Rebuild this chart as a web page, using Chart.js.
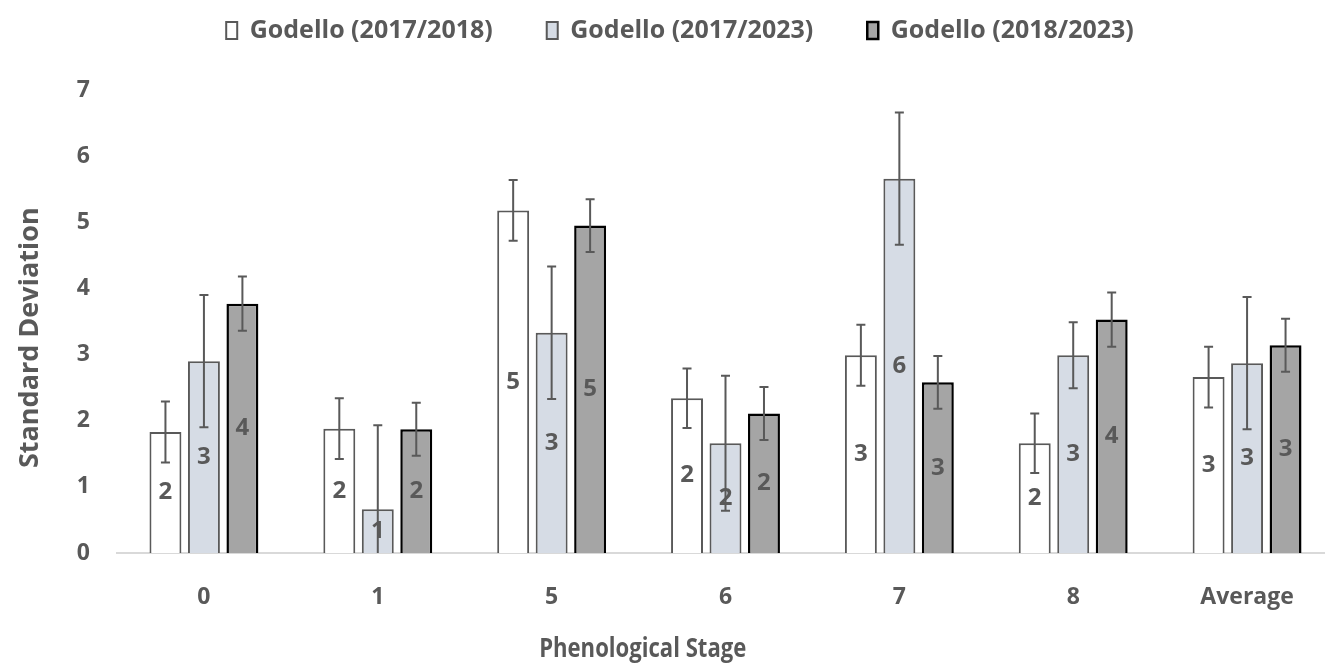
<!DOCTYPE html>
<html>
<head>
<meta charset="utf-8">
<script src="https://cdn.jsdelivr.net/npm/chart.js"></script>
<style>
    html, body { margin: 0; padding: 0; background: #fff; overflow: hidden; }
    #wrap { width: 1345px; height: 664px; }
</style>
</head>
<body>
<div id="wrap"><canvas id="chart"></canvas></div>
<script>
const stages = ['0', '1', '5', '6', '7', '8', 'Average'];
const seriesNames = ['Godello (2017/2018)', 'Godello (2017/2023)', 'Godello (2018/2023)'];

const sd1718 = [1.83, 1.88, 5.18, 2.34, 2.99, 1.66, 2.66];
const sd1723 = [2.90, 0.66, 3.33, 1.66, 5.66, 2.99, 2.87];
const sd1823 = [3.77, 1.87, 4.95, 2.11, 2.58, 3.53, 3.14];

const err1718 = [0.46, 0.46, 0.46, 0.45, 0.46, 0.45, 0.46];
const err1723 = [1.00, 1.27, 1.00, 1.02, 1.00, 0.50, 1.00];
const err1823 = [0.41, 0.40, 0.40, 0.40, 0.40, 0.41, 0.40];

const yTicks = [0, 1, 2, 3, 4, 5, 6, 7];

const FONT = "'Open Sans', 'Noto Sans', sans-serif";
const GREY = '#595959';

(function () {
    'use strict';

    const errors = [err1718, err1723, err1823];

    // error bars drawn from the same y scale as the bars
    const errorBars = {
        id: 'errorBars',
        afterDatasetsDraw(chart) {
            const {ctx, chartArea, scales: {y}} = chart;
            ctx.save();
            ctx.beginPath();
            ctx.rect(chartArea.left, chartArea.top - 20, chartArea.width, chartArea.height + 20);
            ctx.clip();
            ctx.strokeStyle = GREY;
            ctx.lineWidth = 2;
            chart.data.datasets.forEach((ds, i) => {
                chart.getDatasetMeta(i).data.forEach((bar, j) => {
                    const v = ds.data[j], e = errors[i][j];
                    const top = y.getPixelForValue(v + e);
                    const bot = y.getPixelForValue(v - e);
                    ctx.beginPath();
                    ctx.moveTo(bar.x, top);
                    ctx.lineTo(bar.x, bot);
                    ctx.moveTo(bar.x - 4.5, top);
                    ctx.lineTo(bar.x + 4.5, top);
                    ctx.moveTo(bar.x - 4.5, bot);
                    ctx.lineTo(bar.x + 4.5, bot);
                    ctx.stroke();
                });
            });
            ctx.restore();
        }
    };

    // rounded value in the middle of each bar
    const centreLabels = {
        id: 'centreLabels',
        afterDatasetsDraw(chart) {
            const {ctx} = chart;
            ctx.save();
            ctx.font = `bold 24px ${FONT}`;
            ctx.fillStyle = GREY;
            ctx.textAlign = 'center';
            ctx.textBaseline = 'middle';
            chart.data.datasets.forEach((ds, i) => {
                chart.getDatasetMeta(i).data.forEach((bar, j) => {
                    ctx.fillText(String(Math.round(ds.data[j])), bar.x, (bar.y + bar.base) / 2);
                });
            });
            ctx.restore();
        }
    };

    // axis titles sit a little off-centre in the original
    const axisTitles = {
        id: 'axisTitles',
        afterDraw(chart) {
            const {ctx, chartArea: a} = chart;
            ctx.save();
            ctx.fillStyle = GREY;
            ctx.textAlign = 'center';
            ctx.textBaseline = 'middle';
            ctx.save();
            ctx.translate(a.left + a.width * 0.432, 650);
            ctx.scale(0.85, 1);   // narrower face, like the original
            ctx.font = `bold 26px ${FONT}`;
            ctx.fillText('Phenological Stage', 0, 0);
            ctx.restore();
            ctx.translate(30, a.top + a.height * 0.535);
            ctx.rotate(-Math.PI / 2);
            ctx.font = `bold 27px ${FONT}`;
            ctx.fillText('Standard Deviation', 0, 0);
            ctx.restore();
        }
    };

    // legend: keep wide item spacing but sit it near the top edge
    const legendTweak = {
        id: 'legendTweak',
        beforeInit(chart) {
            const legend = chart.legend;
            const fit = legend.fit;
            const draw = legend.draw;
            legend.fit = function () {
                fit.call(this);
                this.height = 90;
            };
            legend.draw = function () {
                chart.ctx.save();
                chart.ctx.translate(13, -36);
                draw.call(this);
                chart.ctx.restore();
            };
        }
    };

    new Chart(document.getElementById('chart'), {
        type: 'bar',
        data: {
            labels: stages,
            datasets: [
                { label: seriesNames[0], data: sd1718, backgroundColor: '#ffffff', borderColor: GREY, borderWidth: 2 },
                { label: seriesNames[1], data: sd1723, backgroundColor: '#d6dce5', borderColor: GREY, borderWidth: 2 },
                { label: seriesNames[2], data: sd1823, backgroundColor: '#a5a5a5', borderColor: '#000000', borderWidth: 2.5 }
            ]
        },
        options: {
            responsive: true,
            maintainAspectRatio: false,
            animation: false,
            layout: { padding: { left: 0, right: 11, top: 0, bottom: 0 } },
            datasets: { bar: { categoryPercentage: 0.664, barPercentage: 0.83 } },
            plugins: {
                tooltip: { enabled: false },
                legend: {
                    position: 'top',
                    labels: {
                        color: GREY,
                        font: { family: FONT, size: 25, weight: 'bold' },
                        boxWidth: 11,
                        boxHeight: 17,
                        padding: 54
                    }
                }
            },
            scales: {
                x: {
                    grid: { display: false },
                    border: { display: true, color: '#d9d9d9', width: 2 },
                    ticks: { color: GREY, font: { family: FONT, size: 23, weight: 'bold' }, padding: 23 },
                    afterFit: s => { s.height = 111; }
                },
                y: {
                    min: 0,
                    max: 7,
                    grid: { display: false },
                    border: { display: false },
                    afterBuildTicks: s => { s.ticks = yTicks.map(v => ({ value: v })); },
                    ticks: { color: GREY, font: { family: FONT, size: 23, weight: 'bold' }, padding: 19 },
                    afterFit: s => { s.width = 117; }
                }
            }
        },
        plugins: [legendTweak, errorBars, centreLabels, axisTitles]
    });
})();
</script>
</body>
</html>
